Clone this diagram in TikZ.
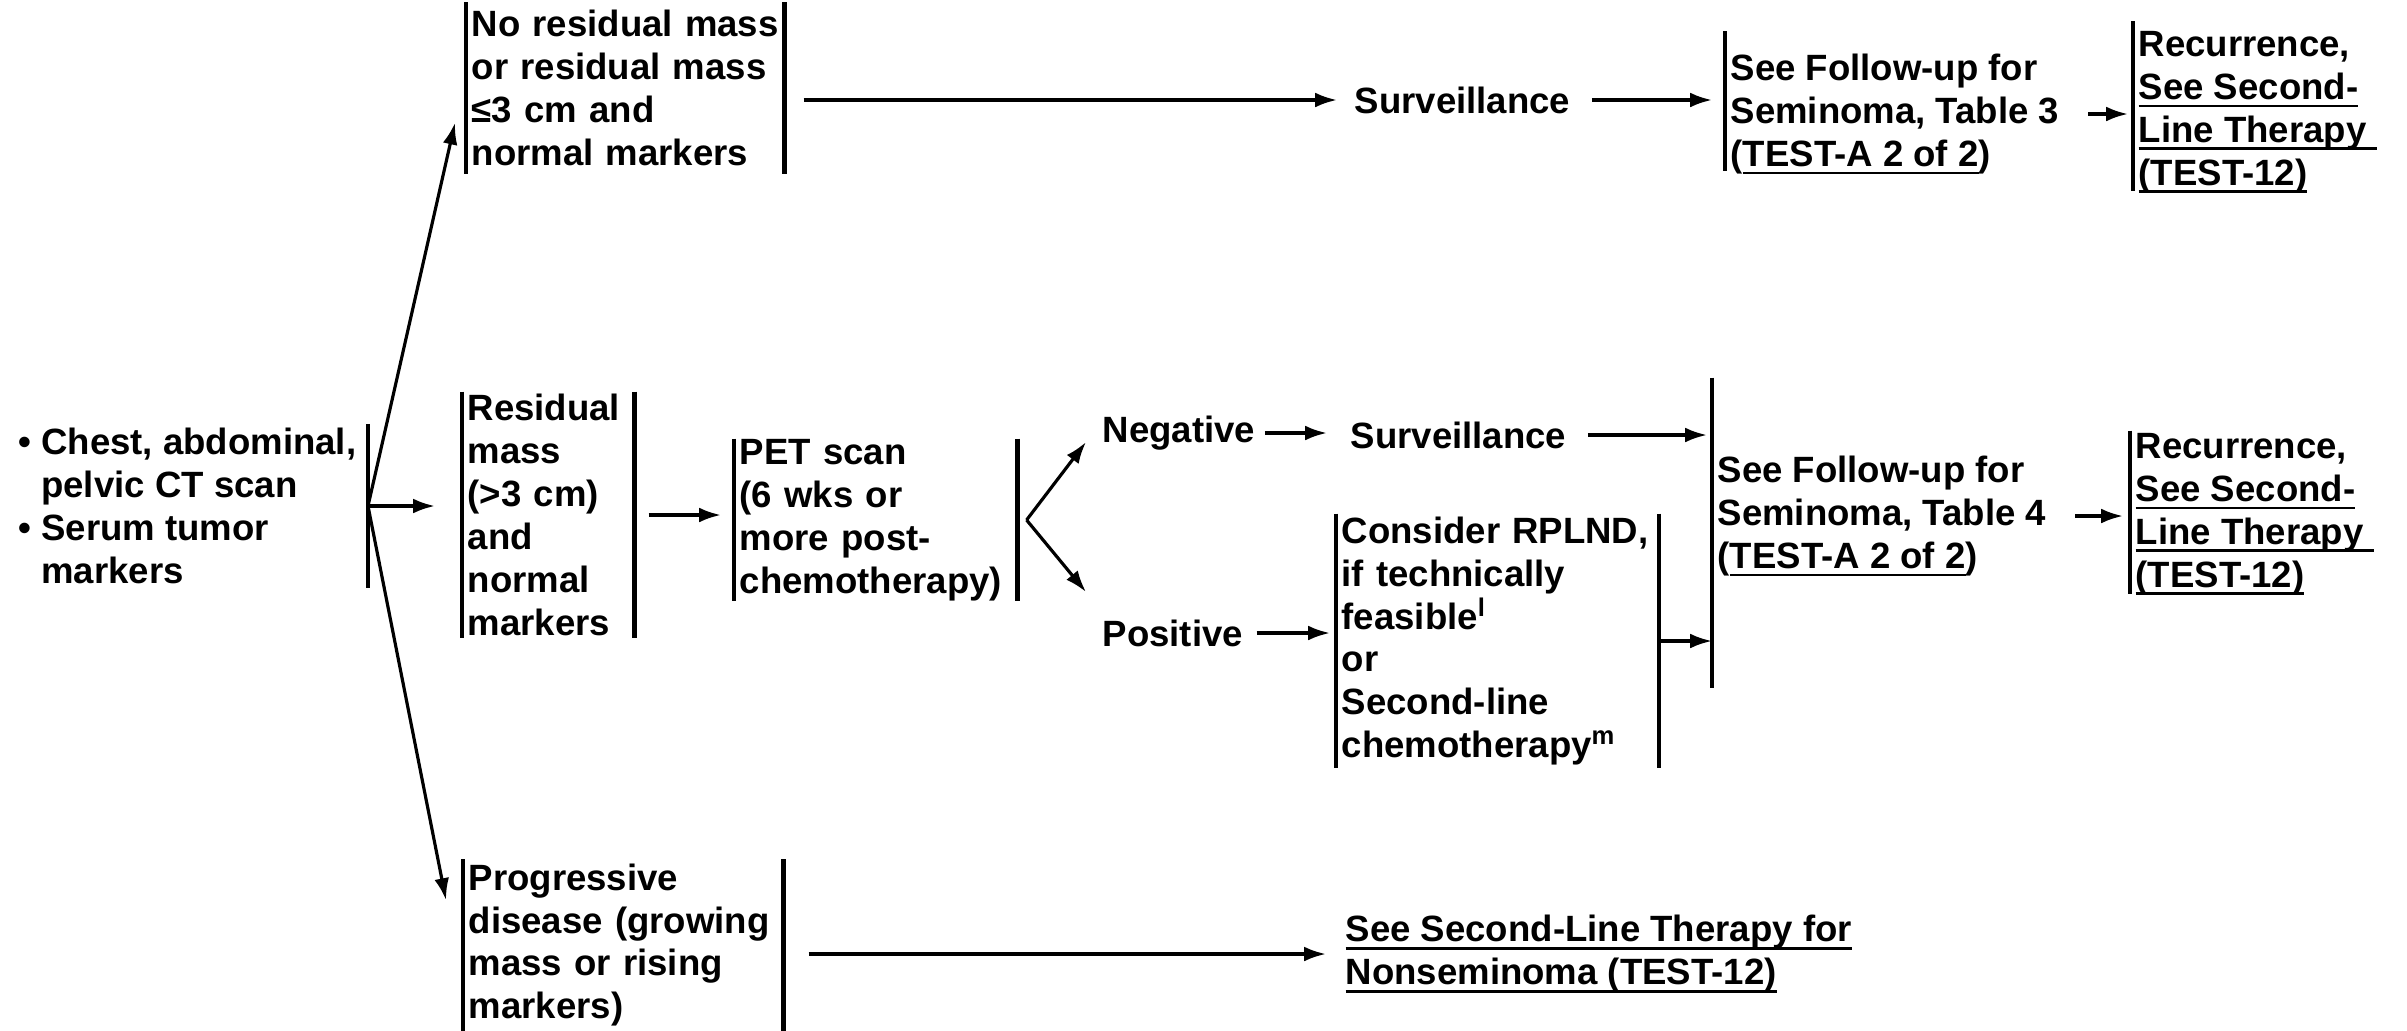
\documentclass[tikz,border=0pt]{standalone}
\usepackage{fontspec}
\setmainfont{Liberation Sans}
\usetikzlibrary{arrows.meta}
\newcommand{\undl}[1]{\setbox0=\hbox{#1}\rlap{\rule[-2.2pt]{\wd0}{0.7pt}}\box0}

\begin{document}
\begin{tikzpicture}[x=0.01cm, y=-0.01cm,
	every node/.style={font=\fontsize{10.4}{12.2}\selectfont\bfseries, inner sep=0pt},
	box/.style={align=left, inner xsep=0.05cm, anchor=west},
	bar/.style={line width=1.2pt},
	arr/.style={line width=0.9pt, -{Latex[length=6.2pt,width=4.2pt]}}]
	\useasboundingbox (0,0) rectangle (2407,1030);
	\node[box, anchor=east, inner xsep=0.11cm, minimum height=1.63cm] (start) at (368,506) {• Chest, abdominal,\\\hphantom{• }pelvic CT scan\\• Serum tumor\\\hphantom{• }markers};
	\begin{scope}
		\node[box, text width=3.07cm, minimum height=1.7cm] (nores) at (466,88) {No residual mass\\or residual mass\\≤3 cm and\\normal markers};
		\node[anchor=west] (surv3) at (1354,100) {Surveillance};
		\node[box, minimum height=1.38cm] (fu3) at (1725,114) {See Follow-up for\\Seminoma, Table 3\\(\undl{TEST-A 2 of 2})};
		\node[box, minimum height=1.68cm] (rec3) at (2133,112) {Recurrence,\\\undl{See Second-}\\\undl{Line Therapy\ }\\\undl{(TEST-12)}};
	\end{scope}
	\begin{scope}
		\node[box, text width=1.61cm, minimum height=2.45cm] (resid) at (462,515) {Residual\\mass\\(>3 cm)\\and\\normal\\markers};
		\node[box, text width=2.72cm, minimum height=1.55cm] (pet) at (734,520) {PET scan\\(6 wks or\\more post-\\chemotherapy)};
		\node[anchor=west] (neg) at (1102,433) {Negative};
		\node[anchor=west] (pos) at (1102,633) {Positive};
		\node[anchor=west] (surv4) at (1350,435) {Surveillance};
		\node[box, text width=3.11cm, minimum height=2.53cm] (consider) at (1336,641) {Consider RPLND,\\if technically\\feasible\textsuperscript{l}\\or\\Second-line\\chemotherapy\textsuperscript{m}};
		\node[box, minimum height=3.09cm] (fu4) at (1712,516) {See Follow-up for\\Seminoma, Table 4\\(\undl{TEST-A 2 of 2})};
		\node[box, minimum height=1.61cm] (rec4) at (2130,514) {Recurrence,\\\undl{See Second-}\\\undl{Line Therapy\ }\\\undl{(TEST-12)}};
	\end{scope}
	\begin{scope}
		\node[box, text width=3.09cm, minimum height=1.7cm] (prog) at (463,945) {Progressive\\disease (growing\\mass or rising\\markers)};
		\node[box, inner xsep=0pt] (nsem) at (1345,954) {\undl{See Second-Line Therapy for}\\\undl{Nonseminoma (TEST-12)}};
	\end{scope}

	\foreach \n/\s in {nores/0,resid/0,pet/0,prog/0,consider/0,fu3/0.13,rec3/0.06,fu4/-0.17,rec4/0.02}
		\draw[bar] ([yshift=\s cm]\n.north west) -- ([yshift=\s cm]\n.south west);
	\foreach \n in {start,nores,resid,pet,prog,consider}
		\draw[bar] (\n.north east) -- (\n.south east);

	\draw[arr] (start.east) -- ([shift={(-11,-51)}]nores.south west);
	\draw[arr, shorten >=0.27cm] (start.east) -- (start.east -| resid.west);
	\draw[arr] (start.east) -- ([shift={(-17,-45)}]prog.west);
	\draw[arr, shorten <=0.19cm, shorten >=0.17cm] (nores.east |- surv3.west) -- (surv3.west);
	\draw[arr, shorten <=0.21cm, shorten >=0.13cm] (surv3.east) -- (surv3.east -| fu3.west);
	\draw[arr, shorten <=0.23cm, shorten >=0.05cm] (fu3.east) -- (fu3.east -| rec3.west);
	\draw[arr, shorten <=0.14cm, shorten >=0.13cm] (resid.east) -- (resid.east -| pet.west);
	\draw[arr] ([xshift=0.09cm]pet.east) -- ([shift={(-16,9)}]neg.west);
	\draw[arr] ([xshift=0.09cm]pet.east) -- ([shift={(-16,-41)}]pos.west);
	\draw[arr, shorten <=0.09cm, shorten >=0.23cm] (neg.east) -- (surv4.west |- neg.east);
	\draw[arr, shorten <=0.13cm, shorten >=0.06cm] (pos.east) -- (pos.east -| consider.west);
	\draw[arr, shorten <=0.21cm, shorten >=0.05cm] (surv4.east) -- (surv4.east -| fu4.west);
	\draw[arr] (consider.east) -- (consider.east -| fu4.west);
	\draw[arr, shorten <=0.23cm, shorten >=0.07cm] (fu4.east) -- (fu4.east -| rec4.west);
	\draw[arr, shorten <=0.25cm, shorten >=0.19cm] (prog.east |- nsem.west) -- (nsem.west);
\end{tikzpicture}
\end{document}
